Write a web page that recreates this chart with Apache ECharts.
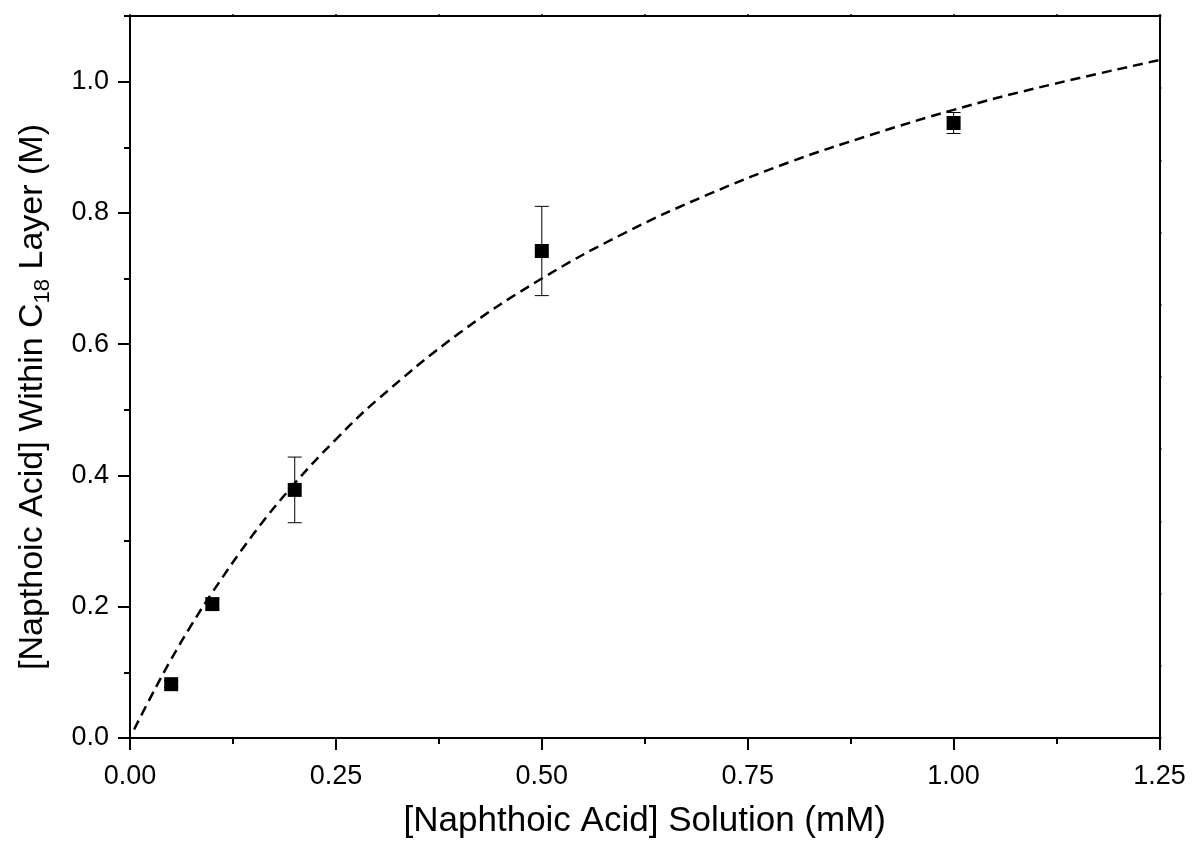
<!DOCTYPE html>
<html>
<head>
<meta charset="utf-8">
<script src="https://cdn.jsdelivr.net/npm/echarts@6/dist/echarts.min.js"></script>
<style>
html,body{margin:0;padding:0;background:#fff;}
#chart{width:1195px;height:848px;}
</style>
</head>
<body>
<div id="chart"></div>
<script>
// Measured data points
const xVals = [0.05, 0.10, 0.20, 0.50, 1.00];
const yVals = [0.082, 0.204, 0.378, 0.742, 0.937];
const yErr  = [0.005, 0.008, 0.050, 0.068, 0.016];

// Fitted curve (dashed)
const fitX = [0.005, 0.025, 0.05, 0.075, 0.10, 0.15, 0.20, 0.25, 0.30, 0.40, 0.50, 0.60, 0.70, 0.80, 0.90, 1.00, 1.10, 1.25];
const fitY = [0.013, 0.062, 0.120, 0.173, 0.222, 0.311, 0.388, 0.455, 0.515, 0.617, 0.700, 0.769, 0.827, 0.877, 0.919, 0.957, 0.990, 1.033];

// Tick labels
const xTickVals = [0, 0.25, 0.5, 0.75, 1.0, 1.25];
const yMajorVals = [0, 0.2, 0.4, 0.6, 0.8, 1.0];
const yMinorVals = [0.1, 0.3, 0.5, 0.7, 0.9, 1.1];

const xTitle = '[Naphthoic Acid] Solution (mM)';
const yTitleParts = ['[Napthoic Acid] Within C', '18', ' Layer (M)'];

const FONT = '"Liberation Sans", Arial, sans-serif';
const chart = echarts.init(document.getElementById('chart'), null, {renderer: 'canvas'});

const blackLine = {show: true, onZero: false, lineStyle: {color: '#000', width: 2}};

const option = {
  backgroundColor: '#fff',
  animation: false,
  grid: {left: 130, right: 35.5, top: 16, bottom: 110, containLabel: false},
  xAxis: [
    {
      type: 'value', position: 'bottom', min: 0, max: 1.25, interval: 0.25,
      axisLine: blackLine,
      axisTick: {show: true, inside: false, length: 12, lineStyle: {color: '#000', width: 2}},
      minorTick: {show: true, splitNumber: 2, length: 6, lineStyle: {color: '#000', width: 2}},
      splitLine: {show: false}, minorSplitLine: {show: false},
      axisLabel: {show: true, margin: 25, color: '#000', fontFamily: FONT, fontSize: 27,
        customValues: xTickVals, formatter: v => v.toFixed(2)},
      name: xTitle, nameLocation: 'middle', nameGap: 66,
      nameTextStyle: {color: '#000', fontFamily: FONT, fontSize: 35}
    },
    {
      type: 'value', position: 'top', min: 0, max: 1.25, interval: 0.125,
      axisLine: blackLine,
      axisTick: {show: true, inside: false, length: 2, lineStyle: {color: '#000', width: 1.5}},
      axisLabel: {show: false}, splitLine: {show: false}
    }
  ],
  yAxis: [
    {
      type: 'value', position: 'left', min: 0, max: 1.1, interval: 0.2,
      axisLine: blackLine,
      axisTick: {show: true, inside: false, length: 12, customValues: yMajorVals, lineStyle: {color: '#000', width: 2}},
      splitLine: {show: false},
      axisLabel: {show: true, margin: 21, color: '#000', fontFamily: FONT, fontSize: 27,
        customValues: yMajorVals, formatter: v => v.toFixed(1)},
      name: '{a|' + yTitleParts[0] + '}{s|' + yTitleParts[1] + '}{a|' + yTitleParts[2] + '}',
      nameLocation: 'middle', nameRotate: 90, nameGap: 76,
      nameTextStyle: {
        color: '#000', fontFamily: FONT, padding: [0, 40, 0, 0],
        rich: {
          a: {color: '#000', fontFamily: FONT, fontSize: 34, lineHeight: 42},
          s: {color: '#000', fontFamily: FONT, fontSize: 22, lineHeight: 22, verticalAlign: 'bottom'}
        }
      }
    },
    {
      type: 'value', position: 'right', min: 0, max: 1.1, interval: 0.11,
      axisLine: blackLine,
      axisTick: {show: true, inside: false, length: 2, lineStyle: {color: '#000', width: 1.5}},
      axisLabel: {show: false}, splitLine: {show: false}
    },
    {
      type: 'value', position: 'left', offset: 0, min: 0, max: 1.1, interval: 0.1,
      axisLine: {show: false, onZero: false},
      axisTick: {show: true, inside: false, length: 6, customValues: yMinorVals, lineStyle: {color: '#000', width: 2}},
      axisLabel: {show: false}, splitLine: {show: false}
    }
  ],
  series: [
    {
      name: 'fit', type: 'line', xAxisIndex: 0, yAxisIndex: 0,
      data: fitX.map((x, i) => [x, fitY[i]]),
      smooth: 0.4, symbol: 'none', silent: true,
      lineStyle: {color: '#000', width: 2.5, type: [10, 6]},
      z: 2
    },
    {
      name: 'errors', type: 'custom', xAxisIndex: 0, yAxisIndex: 0,
      data: xVals.map((x, i) => [x, yVals[i] - yErr[i], yVals[i] + yErr[i]]),
      renderItem: function (params, api) {
        const lo = api.coord([api.value(0), api.value(1)]);
        const hi = api.coord([api.value(0), api.value(2)]);
        const w = 7;
        const st = {stroke: '#000', lineWidth: 1};
        return {
          type: 'group',
          children: [
            {type: 'line', shape: {x1: lo[0], y1: lo[1], x2: hi[0], y2: hi[1]}, style: st},
            {type: 'line', shape: {x1: lo[0] - w, y1: lo[1], x2: lo[0] + w, y2: lo[1]}, style: st},
            {type: 'line', shape: {x1: hi[0] - w, y1: hi[1], x2: hi[0] + w, y2: hi[1]}, style: st}
          ]
        };
      },
      z: 3
    },
    {
      name: 'data', type: 'scatter', xAxisIndex: 0, yAxisIndex: 0,
      data: xVals.map((x, i) => [x, yVals[i]]),
      symbol: 'rect', symbolSize: 14,
      itemStyle: {color: '#000', opacity: 1},
      z: 4
    }
  ]
};
chart.setOption(option);
</script>
</body>
</html>
